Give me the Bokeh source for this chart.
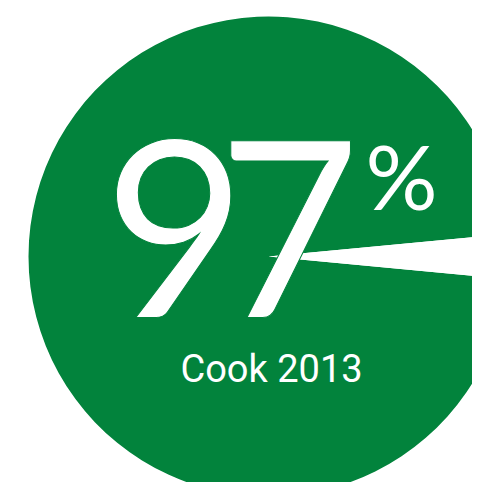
import numpy as np
from bokeh.plotting import figure
from bokeh.models import ColumnDataSource, Range1d
from bokeh.core.properties import value
from bokeh.embed import file_html
from bokeh.resources import INLINE

# Data
labels = ["Consensus", "Other"]
shares = [97, 3]
colors = ["#02833C", "#FFFFFF"]
headline = "97"
suffix = "%"
source_label = "Cook 2013"

GREEN = colors[0]
W, H = 472, 482
p = figure(width=W, height=H, output_backend="svg", toolbar_location=None,
           x_range=Range1d(0, W), y_range=Range1d(0, H), min_border=0,
           background_fill_color="white", border_fill_color="white")
p.axis.visible = False
p.grid.visible = False
p.outline_line_color = None

cx, cy, r = 268, 226, 240
frac = np.array(shares, dtype=float) / sum(shares)
ang = frac * 2 * np.pi
# centre the small slice on the horizontal axis pointing right
start_other = -ang[1] / 2
starts = [start_other + ang[1], start_other]
ends = [start_other + ang[1] + ang[0], start_other + ang[1]]
src = ColumnDataSource(dict(label=labels, start=starts, end=ends, color=colors))
p.wedge(x=cx, y=cy, radius=r, start_angle="start", end_angle="end",
        fill_color="color", line_color=None, source=src)

# big headline, set digit by digit with a tighter advance
digits = list(headline)
advance = 114
dx = 103 + advance * np.arange(len(digits))
p.text(x=dx, y=[253] * len(digits), text=digits, text_font=value("Lato"),
       text_font_size="246px", text_color="white", text_baseline="alphabetic",
       text_align="left", text_outline_color=GREEN)
p.text(x=[365], y=[308], text=[suffix], text_font=value("Lato"),
       text_font_size="90px", text_color="white", text_baseline="alphabetic",
       text_align="left")
p.text(x=[cx + 3], y=[114], text=[source_label], text_font=value("Roboto"),
       text_font_size="38px", text_color="white", text_baseline="alphabetic",
       text_align="center")

open("out.html", "w").write(file_html(p, INLINE))
